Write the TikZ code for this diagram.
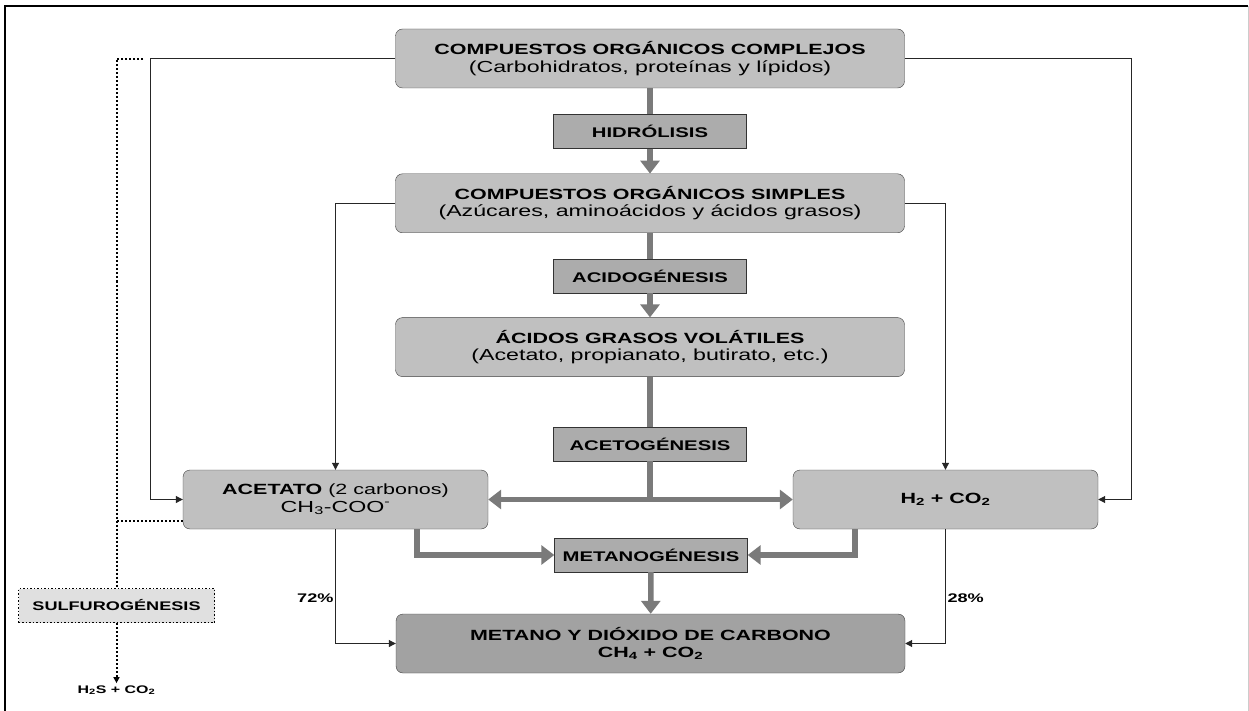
\documentclass[tikz,border=0pt]{standalone}
\usepackage{fontspec}
\setmainfont{Liberation Sans}[FakeStretch=1.45]
\usetikzlibrary{positioning,arrows.meta}

\definecolor{boxgray}{RGB}{192,192,192}
\definecolor{stagegray}{RGB}{172,172,172}
\definecolor{endgray}{RGB}{162,162,162}
\definecolor{sulfgray}{RGB}{224,224,224}
\definecolor{flowgray}{RGB}{122,122,122}

\newcommand{\chsub}[1]{\textsubscript{#1}}

\tikzset{
	compbox/.style={draw=black!75, fill=boxgray, rounded corners=7pt, minimum width=509pt,
		minimum height=59pt, align=center, inner sep=0pt, font=\fontsize{14.8}{17.5}\selectfont},
	sidebox/.style={compbox, minimum width=305pt},
	stagebox/.style={draw=black!80, fill=stagegray, minimum width=193pt, minimum height=34pt,
		inner sep=0pt, font=\fontsize{14}{16}\selectfont\bfseries},
	flow/.style={draw=flowgray, line width=5.5pt, -{Triangle[width=19pt,length=13pt]}},
	link/.style={draw=black!85, line width=1pt, -{Triangle[width=7pt,length=7pt]}},
	sulfline/.style={line width=2pt, dotted},
	pct/.style={inner sep=1.5pt, font=\fontsize{12.5}{14}\selectfont\bfseries}
}

\begin{document}
\begin{tikzpicture}[x=1pt, y=-1pt]
	\useasboundingbox (0,0) rectangle (1249,711);
	\fill[white] (0,0) rectangle (1249,711);
	\draw[line width=2pt] (4.5,711) -- (4.5,6) -- (1248,6);
	\draw[black!20] (1248,6) -- (1248,711);
	
	% main column
	\node[compbox] (cmplx) at (650,58.5)
		{\bfseries COMPUESTOS ORGÁNICOS COMPLEJOS\\
		 {\fontsize{16}{17.5}\selectfont (Carbohidratos, proteínas y lípidos)}};
	\node[stagebox, below=26pt of cmplx] (hidro) {HIDRÓLISIS};
	\node[compbox, below=25pt of hidro] (simple)
		{\bfseries COMPUESTOS ORGÁNICOS SIMPLES\\
		 {\fontsize{16}{17.5}\selectfont (Azúcares, aminoácidos y ácidos grasos)}};
	\node[stagebox, below=26pt of simple] (acido) {ACIDOGÉNESIS};
	\node[compbox, below=24pt of acido] (agv)
		{\bfseries ÁCIDOS GRASOS VOLÁTILES\\
		 {\fontsize{16}{17.5}\selectfont (Acetato, propianato, butirato, etc.)}};
	\node[stagebox, below=50pt of agv] (aceto) {ACETOGÉNESIS};
	
	\node[sidebox] (acet) at (335.5,499.5)
		{{\bfseries ACETATO} (2 carbonos)\\
		 {\fontsize{16}{17.5}\selectfont CH\chsub{3}-COO\textsuperscript{-}}};
	\node[sidebox] (h2) at (945.5,499.5) {\bfseries H\chsub{2} + CO\chsub{2}};
	
	\node[stagebox] (metanog) at (651,555) {METANOGÉNESIS};
	\node[compbox, fill=endgray] (metano) at (650.5,643.5)
		{\bfseries METANO Y DIÓXIDO DE CARBONO\\
		 \bfseries CH\chsub{4} + CO\chsub{2}};
	
	\node[stagebox, fill=sulfgray, draw=black, dotted, line width=1.5pt, minimum width=196pt,
		font=\fontsize{12.5}{14}\selectfont\bfseries] (sulf) at (116.5,605.5) {SULFUROGÉNESIS};
	\node[inner sep=2pt, font=\fontsize{11}{13}\selectfont\bfseries] (h2s) at (116.5,690)
		{H\chsub{2}S + CO\chsub{2}};
	
	% thick flow
	\draw[flow, -] (cmplx) -- (hidro);
	\draw[flow] (hidro) -- (simple);
	\draw[flow, -] (simple) -- (acido);
	\draw[flow] (acido) -- (agv);
	\draw[flow, -] (agv) -- (aceto);
	\draw[flow] (aceto.south) |- (acet.east);
	\draw[flow] (aceto.south) |- (h2.west);
	\draw[flow] ([xshift=81.5pt]acet.south) |- (metanog.west);
	\draw[flow] ([xshift=-90.5pt]h2.south) |- (metanog.east);
	\draw[flow] (metanog) -- (metano);
	
	% thin links
	\draw[link] (cmplx.west) -- ++(-245,0) |- (acet.west);
	\draw[link] (cmplx.east) -- ++(227,0) |- (h2.east);
	\draw[link] (simple.west) -| (acet.north);
	\draw[link] (simple.east) -| (h2.north);
	\draw[link] (acet.south) |- node[pct, left, pos=0.3] {72\%} (metano.west);
	\draw[link] (h2.south) |- node[pct, right, pos=0.3] {28\%} (metano.east);
	
	% sulfurogenesis branch
	\coordinate (dtop) at (116.5,59);
	\coordinate (dstub) at (143,59);
	\draw[sulfline] (dstub) -- (dtop) -- (sulf.north);
	\draw[sulfline] ([yshift=-21pt]acet.west) -- ++(-66.5,0);
	\draw[sulfline, -{Triangle[width=6pt,length=6pt]}] (sulf.south) -- (h2s.north);
\end{tikzpicture}
\end{document}
